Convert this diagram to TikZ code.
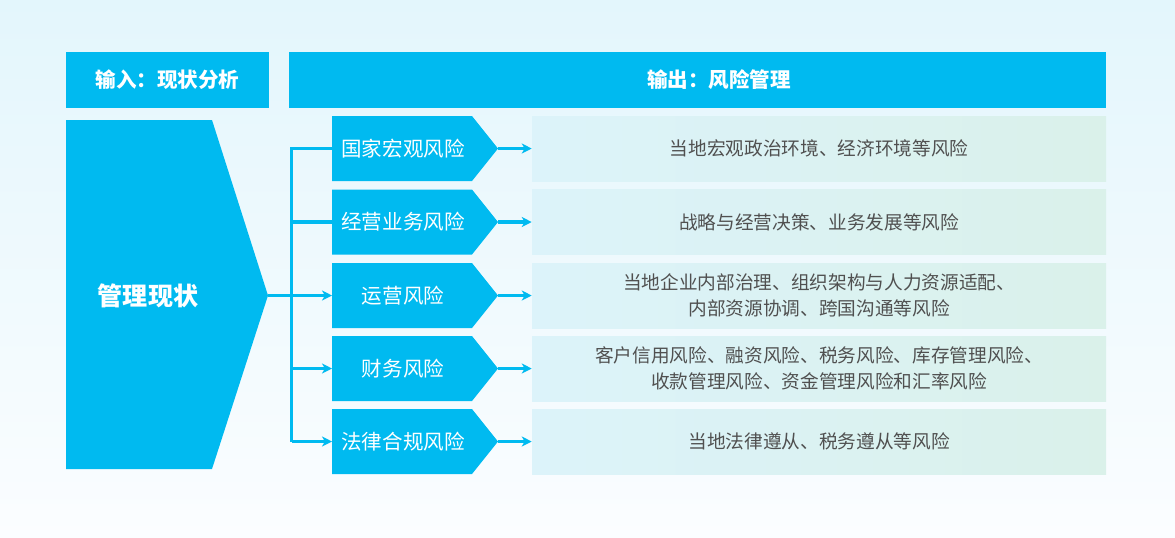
\documentclass[tikz,border=0pt]{standalone}
\usepackage{fontspec}
\setmainfont{Noto Sans CJK SC}
\usetikzlibrary{arrows.meta}
\definecolor{mainblue}{HTML}{00BAF0}
\definecolor{bgtop}{HTML}{E3F6FC}
\definecolor{bgbot}{HTML}{FBFDFF}
\definecolor{boxl}{HTML}{DCF3FA}
\definecolor{boxr}{HTML}{DAF1EA}
\definecolor{desctext}{HTML}{505050}
\begin{document}
\begin{tikzpicture}[x=0.75pt,y=-0.75pt,
  hdrtext/.style={text=white,font=\fontsize{15.4pt}{18pt}\selectfont\bfseries,inner sep=0pt},
  chevtext/.style={text=white,font=\fontsize{15.4pt}{18pt}\selectfont,inner sep=0pt},
  descbox/.style={left color=boxl,right color=boxr,minimum width=430.5pt,minimum height=48.75pt,inner sep=0pt,
    text=desctext,font=\fontsize{14pt}{19.5pt}\selectfont,align=center},
  conn/.style={draw=mainblue,line width=2.3pt},
  connarrow/.style={conn,-{Stealth[length=7.5pt,width=7.5pt,inset=2.2pt]}}
]
\useasboundingbox (0,0) rectangle (1175,537);
\shade[top color=bgtop,bottom color=bgbot] (0,0) rectangle (1175,537);

% headers
\fill[mainblue] (66,52) rectangle (269,107.5);
\node[hdrtext] (hin) at (167.5,80) {输入：现状分析};
\fill[mainblue] (289,52) rectangle (1106,107.5);
\node[hdrtext] (hout) at (719,80) {输出：风险管理};

% big pentagon
\fill[mainblue] (66,120) -- (212,120) -- (268,295.5) -- (212,469) -- (66,469) -- cycle;
\node[text=white,font=\fontsize{18.8pt}{22pt}\selectfont\bfseries,inner sep=0pt] (cur) at (148,295.5) {管理现状};
\coordinate (curtip) at (268,295.5);

% chevrons
\foreach \t/\c in {116/148.5,189.5/222,263/295.5,336/368.5,409/441.5}{
  \fill[mainblue] (332,\t) -- (472,\t) -- (498,\c) -- (472,\t+65) -- (332,\t+65) -- cycle;
}
\node[chevtext] (k1) at (403,148.5) {国家宏观风险};
\node[chevtext] (k2) at (403,222) {经营业务风险};
\node[chevtext] (k3) at (403,295.5) {运营风险};
\node[chevtext] (k4) at (403,368.5) {财务风险};
\node[chevtext] (k5) at (403,441.5) {法律合规风险};

\coordinate (in1) at (332,148.5);
\coordinate (in2) at (332,222);
\coordinate (in3) at (332,295.5);
\coordinate (in4) at (332,368.5);
\coordinate (in5) at (332,441.5);
\coordinate (tip1) at (498,148.5);
\coordinate (tip2) at (498,222);
\coordinate (tip3) at (498,295.5);
\coordinate (tip4) at (498,368.5);
\coordinate (tip5) at (498,441.5);
\coordinate (vtop) at (291.5,148.5);
\coordinate (vbot) at (291.5,441.5);

% description boxes
\node[descbox] (d1) at (819,148.5) {当地宏观政治环境、经济环境等风险};
\node[descbox] (d2) at (819,222) {战略与经营决策、业务发展等风险};
\node[descbox] (d3) at (819,295.5) {当地企业内部治理、组织架构与人力资源适配、\\内部资源协调、跨国沟通等风险};
\node[descbox] (d4) at (819,368.5) {客户信用风险、融资风险、税务风险、库存管理风险、\\收款管理风险、资金管理风险和汇率风险};
\node[descbox] (d5) at (819,441.5) {当地法律遵从、税务遵从等风险};

% connectors
\draw[conn] (in1) -- (vtop) -- (vbot);
\draw[conn] (vtop |- in2) -- (in2);
\draw[connarrow] (curtip) -- (in3);
\draw[connarrow] (vtop |- in4) -- (in4);
\draw[connarrow] (vbot) -- (in5);

\draw[connarrow] (tip1) -- (d1.west);
\draw[connarrow] (tip2) -- (d2.west);
\draw[connarrow] (tip3) -- (d3.west);
\draw[connarrow] (tip4) -- (d4.west);
\draw[connarrow] (tip5) -- (d5.west);
\end{tikzpicture}
\end{document}
